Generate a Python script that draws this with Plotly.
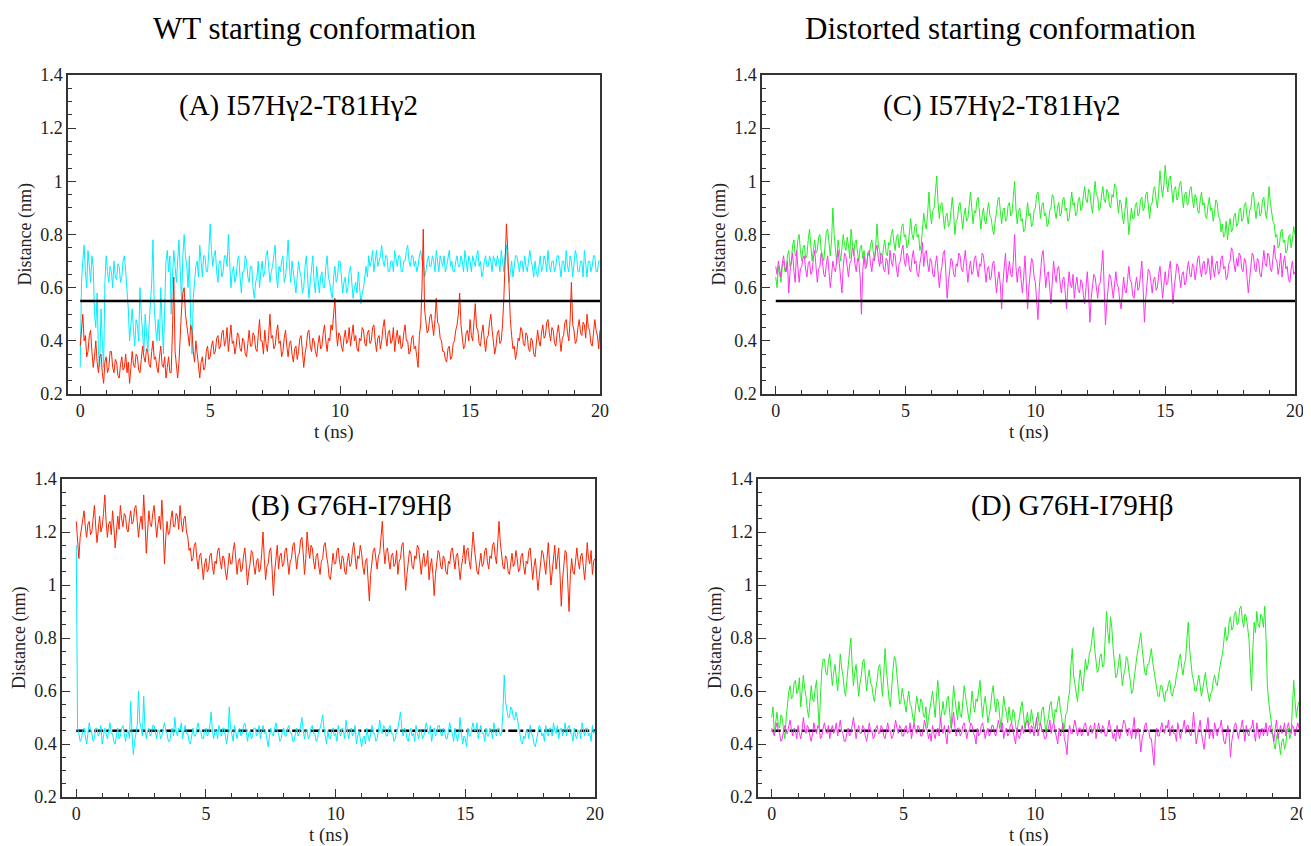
import plotly.graph_objects as go

# time axis, 0.05 ns sampling (401 frames, 0-20 ns)
t_ns = [round(i * 0.05, 2) for i in range(401)]

# (A) WT start, I57Hg2-T81Hg2 distance (nm)
a_cyan = [
    0.30, 0.62, 0.70, 0.76, 0.66, 0.60, 0.74, 0.68, 0.62, 0.72, 0.68, 0.50, 0.45, 0.58, 0.36, 0.30, 0.52, 0.40, 0.30, 0.62,
    0.72, 0.66, 0.62, 0.68, 0.66, 0.60, 0.70, 0.64, 0.63, 0.69, 0.68, 0.62, 0.64, 0.70, 0.72, 0.66, 0.60, 0.52, 0.40, 0.46,
    0.52, 0.44, 0.38, 0.48, 0.46, 0.40, 0.60, 0.50, 0.42, 0.36, 0.50, 0.44, 0.36, 0.46, 0.55, 0.62, 0.78, 0.52, 0.45, 0.40,
    0.48, 0.40, 0.60, 0.44, 0.35, 0.52, 0.70, 0.74, 0.66, 0.72, 0.50, 0.64, 0.74, 0.68, 0.62, 0.70, 0.78, 0.66, 0.55, 0.72,
    0.80, 0.72, 0.68, 0.60, 0.72, 0.48, 0.35, 0.56, 0.62, 0.68, 0.70, 0.64, 0.76, 0.70, 0.64, 0.72, 0.72, 0.66, 0.66, 0.74,
    0.84, 0.74, 0.68, 0.72, 0.74, 0.66, 0.62, 0.70, 0.70, 0.64, 0.66, 0.72, 0.72, 0.68, 0.80, 0.70, 0.60, 0.66, 0.68, 0.62,
    0.64, 0.70, 0.72, 0.64, 0.58, 0.66, 0.66, 0.72, 0.70, 0.64, 0.62, 0.68, 0.68, 0.60, 0.56, 0.62, 0.64, 0.70, 0.60, 0.66,
    0.70, 0.64, 0.66, 0.72, 0.74, 0.68, 0.62, 0.66, 0.68, 0.72, 0.76, 0.64, 0.60, 0.68, 0.66, 0.70, 0.72, 0.62, 0.64, 0.70,
    0.78, 0.68, 0.62, 0.70, 0.66, 0.62, 0.58, 0.64, 0.70, 0.66, 0.64, 0.58, 0.60, 0.68, 0.72, 0.64, 0.56, 0.62, 0.66, 0.72,
    0.62, 0.58, 0.68, 0.62, 0.58, 0.64, 0.66, 0.60, 0.60, 0.68, 0.72, 0.64, 0.62, 0.58, 0.56, 0.64, 0.68, 0.62, 0.64, 0.70,
    0.70, 0.64, 0.58, 0.62, 0.64, 0.58, 0.60, 0.66, 0.68, 0.62, 0.56, 0.60, 0.62, 0.58, 0.66, 0.60, 0.54, 0.58, 0.60, 0.64,
    0.68, 0.64, 0.72, 0.68, 0.70, 0.74, 0.66, 0.70, 0.74, 0.68, 0.70, 0.72, 0.76, 0.70, 0.68, 0.72, 0.72, 0.66, 0.66, 0.70,
    0.70, 0.66, 0.74, 0.70, 0.68, 0.72, 0.72, 0.66, 0.66, 0.70, 0.70, 0.74, 0.76, 0.70, 0.68, 0.72, 0.72, 0.68, 0.70, 0.66,
    0.68, 0.72, 0.74, 0.70, 0.70, 0.64, 0.66, 0.70, 0.72, 0.68, 0.68, 0.72, 0.70, 0.66, 0.74, 0.70, 0.66, 0.72, 0.70, 0.68,
    0.72, 0.66, 0.68, 0.72, 0.74, 0.68, 0.70, 0.66, 0.66, 0.70, 0.72, 0.68, 0.68, 0.72, 0.70, 0.66, 0.74, 0.70, 0.66, 0.72,
    0.70, 0.66, 0.72, 0.70, 0.68, 0.72, 0.74, 0.68, 0.70, 0.64, 0.66, 0.70, 0.72, 0.68, 0.68, 0.72, 0.70, 0.66, 0.72, 0.70,
    0.68, 0.72, 0.70, 0.66, 0.74, 0.70, 0.66, 0.72, 0.76, 0.68, 0.62, 0.66, 0.70, 0.64, 0.68, 0.72, 0.72, 0.68, 0.66, 0.70,
    0.70, 0.66, 0.72, 0.68, 0.66, 0.70, 0.74, 0.70, 0.68, 0.64, 0.70, 0.66, 0.64, 0.68, 0.72, 0.66, 0.68, 0.72, 0.70, 0.66,
    0.74, 0.68, 0.66, 0.70, 0.70, 0.66, 0.68, 0.72, 0.72, 0.68, 0.64, 0.70, 0.70, 0.66, 0.74, 0.68, 0.66, 0.72, 0.70, 0.64,
    0.68, 0.74, 0.72, 0.66, 0.66, 0.70, 0.70, 0.64, 0.74, 0.68, 0.64, 0.70, 0.70, 0.66, 0.68, 0.72, 0.72, 0.66, 0.66, 0.70,
    0.70,
]
a_red = [
    0.38, 0.46, 0.50, 0.40, 0.42, 0.34, 0.36, 0.42, 0.44, 0.36, 0.30, 0.34, 0.40, 0.32, 0.28, 0.34, 0.35, 0.28, 0.24, 0.32,
    0.34, 0.28, 0.30, 0.36, 0.36, 0.30, 0.28, 0.33, 0.32, 0.27, 0.26, 0.31, 0.34, 0.29, 0.30, 0.35, 0.28, 0.32, 0.24, 0.30,
    0.36, 0.31, 0.30, 0.35, 0.34, 0.29, 0.28, 0.33, 0.38, 0.34, 0.32, 0.37, 0.36, 0.31, 0.30, 0.36, 0.40, 0.33, 0.34, 0.30,
    0.28, 0.34, 0.38, 0.31, 0.30, 0.34, 0.26, 0.30, 0.34, 0.28, 0.28, 0.44, 0.64, 0.36, 0.30, 0.26, 0.32, 0.44, 0.52, 0.58,
    0.60, 0.50, 0.46, 0.40, 0.38, 0.46, 0.44, 0.36, 0.32, 0.40, 0.36, 0.30, 0.26, 0.32, 0.34, 0.29, 0.30, 0.36, 0.38, 0.33,
    0.34, 0.38, 0.40, 0.35, 0.36, 0.41, 0.42, 0.37, 0.38, 0.43, 0.44, 0.38, 0.40, 0.45, 0.36, 0.41, 0.46, 0.39, 0.40, 0.35,
    0.38, 0.43, 0.42, 0.37, 0.36, 0.41, 0.40, 0.35, 0.34, 0.39, 0.44, 0.38, 0.38, 0.43, 0.42, 0.37, 0.36, 0.42, 0.48, 0.40,
    0.40, 0.35, 0.44, 0.39, 0.36, 0.42, 0.50, 0.41, 0.42, 0.37, 0.38, 0.43, 0.46, 0.39, 0.40, 0.34, 0.36, 0.41, 0.44, 0.38,
    0.34, 0.39, 0.40, 0.35, 0.32, 0.37, 0.38, 0.33, 0.36, 0.41, 0.42, 0.36, 0.30, 0.35, 0.38, 0.43, 0.44, 0.38, 0.36, 0.41,
    0.40, 0.36, 0.34, 0.39, 0.42, 0.37, 0.38, 0.43, 0.46, 0.40, 0.36, 0.41, 0.40, 0.46, 0.44, 0.50, 0.56, 0.44, 0.38, 0.43,
    0.42, 0.38, 0.36, 0.41, 0.44, 0.39, 0.40, 0.45, 0.38, 0.42, 0.46, 0.40, 0.42, 0.37, 0.36, 0.41, 0.40, 0.45, 0.44, 0.39,
    0.38, 0.43, 0.44, 0.39, 0.40, 0.45, 0.46, 0.40, 0.36, 0.41, 0.42, 0.37, 0.40, 0.45, 0.48, 0.42, 0.38, 0.43, 0.44, 0.39,
    0.40, 0.45, 0.36, 0.41, 0.44, 0.39, 0.42, 0.37, 0.38, 0.43, 0.46, 0.40, 0.40, 0.35, 0.36, 0.41, 0.42, 0.37, 0.38, 0.34,
    0.30, 0.42, 0.46, 0.60, 0.82, 0.52, 0.48, 0.43, 0.44, 0.49, 0.50, 0.45, 0.42, 0.48, 0.56, 0.47, 0.46, 0.41, 0.40, 0.36,
    0.36, 0.33, 0.32, 0.37, 0.38, 0.33, 0.34, 0.39, 0.40, 0.44, 0.46, 0.50, 0.58, 0.46, 0.42, 0.37, 0.38, 0.43, 0.44, 0.40,
    0.48, 0.42, 0.40, 0.46, 0.54, 0.45, 0.44, 0.39, 0.38, 0.43, 0.46, 0.40, 0.36, 0.41, 0.42, 0.47, 0.50, 0.44, 0.40, 0.35,
    0.38, 0.43, 0.44, 0.39, 0.40, 0.46, 0.56, 0.70, 0.84, 0.74, 0.60, 0.48, 0.42, 0.37, 0.38, 0.33, 0.36, 0.41, 0.40, 0.45,
    0.44, 0.39, 0.38, 0.43, 0.42, 0.37, 0.36, 0.41, 0.40, 0.35, 0.34, 0.39, 0.44, 0.40, 0.38, 0.43, 0.46, 0.41, 0.42, 0.47,
    0.48, 0.43, 0.40, 0.45, 0.44, 0.39, 0.38, 0.43, 0.46, 0.41, 0.36, 0.41, 0.42, 0.47, 0.48, 0.43, 0.40, 0.48, 0.62, 0.46,
    0.44, 0.39, 0.40, 0.45, 0.48, 0.43, 0.42, 0.47, 0.46, 0.41, 0.50, 0.45, 0.44, 0.39, 0.38, 0.43, 0.48, 0.44, 0.42, 0.37,
    0.44,
]

# (B) WT start, G76H-I79Hb distance (nm)
b_red = [
    1.24, 1.16, 1.10, 1.18, 1.22, 1.26, 1.28, 1.22, 1.18, 1.23, 1.24, 1.19, 1.20, 1.25, 1.30, 1.22, 1.16, 1.21, 1.26, 1.20,
    1.22, 1.27, 1.34, 1.24, 1.18, 1.23, 1.24, 1.19, 1.28, 1.22, 1.14, 1.20, 1.26, 1.21, 1.30, 1.25, 1.22, 1.27, 1.26, 1.21,
    1.20, 1.25, 1.28, 1.23, 1.24, 1.29, 1.30, 1.24, 1.18, 1.23, 1.26, 1.21, 1.34, 1.24, 1.12, 1.20, 1.28, 1.23, 1.22, 1.27,
    1.30, 1.24, 1.18, 1.23, 1.26, 1.21, 1.32, 1.22, 1.08, 1.18, 1.24, 1.19, 1.20, 1.25, 1.28, 1.22, 1.22, 1.27, 1.26, 1.21,
    1.30, 1.24, 1.20, 1.25, 1.26, 1.20, 1.18, 1.13, 1.14, 1.09, 1.10, 1.15, 1.16, 1.10, 1.06, 1.11, 1.12, 1.07, 1.02, 1.08,
    1.10, 1.05, 1.06, 1.11, 1.12, 1.07, 1.04, 1.09, 1.08, 1.13, 1.14, 1.09, 1.06, 1.11, 1.10, 1.05, 1.02, 1.07, 1.12, 1.08,
    1.08, 1.13, 1.16, 1.10, 1.04, 1.09, 1.10, 1.05, 1.06, 1.11, 1.14, 1.08, 1.00, 1.05, 1.08, 1.13, 1.12, 1.07, 1.04, 1.09,
    1.10, 1.05, 1.06, 1.12, 1.20, 1.10, 1.02, 1.07, 1.08, 1.13, 1.14, 1.06, 0.96, 1.05, 1.10, 1.15, 1.06, 1.11, 1.12, 1.07,
    1.08, 1.13, 1.14, 1.09, 1.04, 1.09, 1.10, 1.15, 1.16, 1.11, 1.06, 1.11, 1.12, 1.17, 1.18, 1.12, 1.04, 1.10, 1.20, 1.14,
    1.10, 1.15, 1.14, 1.09, 1.06, 1.11, 1.12, 1.07, 1.04, 1.09, 1.10, 1.15, 1.16, 1.11, 1.08, 1.03, 1.02, 1.07, 1.12, 1.08,
    1.08, 1.13, 1.14, 1.09, 1.06, 1.11, 1.10, 1.05, 1.04, 1.09, 1.12, 1.07, 1.08, 1.13, 1.16, 1.11, 1.06, 1.11, 1.10, 1.15,
    1.12, 1.07, 1.04, 1.09, 1.10, 1.02, 0.94, 1.04, 1.08, 1.13, 1.14, 1.09, 1.06, 1.11, 1.12, 1.18, 1.24, 1.14, 1.08, 1.13,
    1.14, 1.09, 1.06, 1.11, 1.12, 1.07, 1.08, 1.13, 1.04, 1.09, 1.10, 1.15, 1.16, 1.07, 0.98, 1.04, 1.08, 1.13, 1.12, 1.07,
    1.06, 1.11, 1.10, 1.15, 1.14, 1.09, 1.04, 1.09, 1.12, 1.07, 1.08, 1.13, 1.02, 1.07, 1.10, 1.04, 0.96, 1.04, 1.08, 1.13,
    1.12, 1.07, 1.06, 1.11, 1.10, 1.05, 1.04, 1.09, 1.08, 1.13, 1.14, 1.09, 1.06, 1.11, 1.12, 1.07, 1.02, 1.07, 1.10, 1.15,
    1.08, 1.13, 1.14, 1.09, 1.06, 1.13, 1.20, 1.14, 1.10, 1.05, 1.04, 1.09, 1.12, 1.07, 1.08, 1.13, 1.14, 1.09, 1.06, 1.11,
    1.10, 1.15, 1.16, 1.11, 1.08, 1.16, 1.24, 1.16, 1.12, 1.07, 1.06, 1.11, 1.10, 1.05, 1.04, 1.09, 1.12, 1.07, 1.08, 1.13,
    1.10, 1.05, 1.06, 1.11, 1.12, 1.07, 1.04, 1.09, 1.08, 1.13, 1.14, 1.08, 1.02, 1.07, 1.10, 1.04, 0.98, 1.03, 1.08, 1.13,
    1.12, 1.07, 1.04, 1.10, 1.16, 1.08, 1.00, 1.05, 1.10, 1.15, 1.06, 1.11, 1.14, 1.04, 0.92, 1.02, 1.08, 1.13, 1.12, 1.00,
    0.90, 1.04, 1.10, 1.05, 1.04, 1.09, 1.14, 1.09, 1.06, 1.11, 1.12, 1.07, 1.02, 1.08, 1.16, 1.10, 1.08, 1.13, 1.04, 1.09,
    1.10,
]
b_cyan = [
    1.15, 0.46, 0.44, 0.41, 0.42, 0.45, 0.46, 0.43, 0.40, 0.44, 0.48, 0.45, 0.44, 0.41, 0.42, 0.46, 0.46, 0.43, 0.44, 0.47,
    0.40, 0.43, 0.46, 0.44, 0.42, 0.45, 0.48, 0.44, 0.44, 0.41, 0.40, 0.43, 0.46, 0.42, 0.43, 0.46, 0.47, 0.44, 0.41, 0.44,
    0.45, 0.42, 0.56, 0.44, 0.36, 0.41, 0.44, 0.47, 0.60, 0.48, 0.46, 0.43, 0.58, 0.46, 0.42, 0.45, 0.46, 0.43, 0.44, 0.47,
    0.47, 0.44, 0.42, 0.45, 0.45, 0.42, 0.43, 0.46, 0.48, 0.45, 0.44, 0.41, 0.41, 0.44, 0.46, 0.43, 0.50, 0.45, 0.43, 0.46,
    0.45, 0.48, 0.42, 0.45, 0.47, 0.44, 0.44, 0.41, 0.40, 0.43, 0.46, 0.43, 0.43, 0.46, 0.48, 0.45, 0.45, 0.42, 0.42, 0.45,
    0.46, 0.43, 0.44, 0.47, 0.52, 0.45, 0.42, 0.45, 0.45, 0.42, 0.47, 0.44, 0.43, 0.46, 0.46, 0.43, 0.40, 0.44, 0.54, 0.46,
    0.44, 0.41, 0.47, 0.44, 0.42, 0.45, 0.46, 0.43, 0.44, 0.47, 0.48, 0.45, 0.41, 0.44, 0.45, 0.42, 0.43, 0.46, 0.46, 0.43,
    0.44, 0.47, 0.42, 0.45, 0.47, 0.44, 0.45, 0.42, 0.39, 0.43, 0.46, 0.44, 0.43, 0.46, 0.48, 0.45, 0.44, 0.41, 0.42, 0.45,
    0.46, 0.43, 0.43, 0.46, 0.47, 0.44, 0.44, 0.41, 0.41, 0.44, 0.46, 0.43, 0.44, 0.47, 0.50, 0.45, 0.42, 0.45, 0.45, 0.42,
    0.43, 0.46, 0.47, 0.44, 0.44, 0.41, 0.42, 0.45, 0.46, 0.48, 0.51, 0.46, 0.43, 0.40, 0.45, 0.42, 0.42, 0.45, 0.46, 0.43,
    0.44, 0.41, 0.47, 0.44, 0.43, 0.46, 0.45, 0.42, 0.49, 0.45, 0.42, 0.45, 0.46, 0.43, 0.44, 0.47, 0.40, 0.43, 0.45, 0.42,
    0.39, 0.42, 0.43, 0.40, 0.46, 0.43, 0.41, 0.44, 0.47, 0.44, 0.44, 0.41, 0.42, 0.45, 0.49, 0.45, 0.44, 0.47, 0.46, 0.43,
    0.43, 0.46, 0.47, 0.44, 0.44, 0.41, 0.42, 0.45, 0.46, 0.49, 0.52, 0.46, 0.43, 0.46, 0.45, 0.42, 0.41, 0.44, 0.46, 0.43,
    0.44, 0.41, 0.47, 0.44, 0.42, 0.45, 0.45, 0.42, 0.43, 0.46, 0.48, 0.45, 0.44, 0.47, 0.41, 0.44, 0.46, 0.43, 0.44, 0.47,
    0.47, 0.44, 0.43, 0.46, 0.45, 0.42, 0.42, 0.45, 0.48, 0.45, 0.44, 0.41, 0.46, 0.43, 0.41, 0.44, 0.50, 0.44, 0.40, 0.43,
    0.42, 0.39, 0.46, 0.43, 0.43, 0.46, 0.48, 0.45, 0.45, 0.48, 0.42, 0.45, 0.47, 0.44, 0.44, 0.41, 0.46, 0.43, 0.43, 0.46,
    0.45, 0.42, 0.48, 0.45, 0.43, 0.46, 0.46, 0.43, 0.44, 0.52, 0.66, 0.56, 0.52, 0.50, 0.50, 0.54, 0.53, 0.50, 0.49, 0.52,
    0.50, 0.47, 0.44, 0.41, 0.40, 0.43, 0.42, 0.45, 0.45, 0.42, 0.47, 0.44, 0.43, 0.40, 0.39, 0.42, 0.44, 0.47, 0.46, 0.43,
    0.44, 0.41, 0.47, 0.44, 0.43, 0.46, 0.46, 0.43, 0.48, 0.45, 0.44, 0.47, 0.42, 0.45, 0.46, 0.43, 0.45, 0.48, 0.43, 0.46,
    0.47, 0.44, 0.44, 0.41, 0.46, 0.43, 0.42, 0.45, 0.45, 0.42, 0.48, 0.45, 0.43, 0.46, 0.46, 0.43, 0.44, 0.41, 0.47, 0.44,
    0.45,
]

# (C) distorted start, I57Hg2-T81Hg2 distance (nm)
c_green = [
    0.64, 0.60, 0.68, 0.64, 0.62, 0.68, 0.70, 0.66, 0.66, 0.72, 0.74, 0.68, 0.70, 0.76, 0.78, 0.72, 0.72, 0.78, 0.80, 0.74,
    0.70, 0.75, 0.76, 0.71, 0.72, 0.78, 0.82, 0.76, 0.70, 0.74, 0.78, 0.73, 0.74, 0.79, 0.80, 0.74, 0.72, 0.70, 0.76, 0.81,
    0.82, 0.76, 0.72, 0.78, 0.90, 0.80, 0.74, 0.69, 0.78, 0.73, 0.70, 0.75, 0.80, 0.76, 0.74, 0.79, 0.76, 0.71, 0.82, 0.77,
    0.72, 0.77, 0.78, 0.73, 0.70, 0.75, 0.76, 0.71, 0.74, 0.70, 0.68, 0.73, 0.72, 0.76, 0.78, 0.74, 0.70, 0.76, 0.84, 0.76,
    0.74, 0.69, 0.70, 0.75, 0.78, 0.73, 0.72, 0.77, 0.76, 0.80, 0.82, 0.77, 0.74, 0.79, 0.80, 0.75, 0.78, 0.83, 0.84, 0.79,
    0.80, 0.75, 0.76, 0.81, 0.86, 0.80, 0.78, 0.83, 0.84, 0.79, 0.80, 0.74, 0.76, 0.82, 0.88, 0.84, 0.82, 0.88, 0.96, 0.88,
    0.84, 0.89, 0.90, 0.96, 1.02, 0.92, 0.86, 0.91, 0.92, 0.87, 0.82, 0.87, 0.88, 0.83, 0.84, 0.89, 0.94, 0.88, 0.80, 0.85,
    0.86, 0.91, 0.92, 0.87, 0.82, 0.87, 0.90, 0.85, 0.86, 0.91, 0.96, 0.90, 0.84, 0.89, 0.88, 0.93, 0.94, 0.88, 0.82, 0.87,
    0.90, 0.85, 0.84, 0.89, 0.92, 0.87, 0.86, 0.82, 0.80, 0.85, 0.88, 0.93, 0.94, 0.89, 0.84, 0.89, 0.90, 0.85, 0.86, 0.91,
    0.92, 0.87, 0.88, 0.94, 1.00, 0.90, 0.84, 0.89, 0.90, 0.85, 0.86, 0.81, 0.82, 0.87, 0.92, 0.87, 0.88, 0.83, 0.84, 0.89,
    0.90, 0.95, 0.96, 0.91, 0.86, 0.91, 0.92, 0.87, 0.88, 0.83, 0.84, 0.89, 0.90, 0.95, 0.94, 0.89, 0.86, 0.90, 0.92, 0.87,
    0.88, 0.93, 0.94, 0.89, 0.90, 0.85, 0.86, 0.91, 0.96, 0.91, 0.92, 0.87, 0.88, 0.93, 0.94, 0.89, 0.90, 0.95, 0.98, 0.93,
    0.92, 0.97, 0.96, 0.91, 0.88, 0.94, 1.00, 0.95, 0.94, 0.89, 0.90, 0.95, 0.98, 0.93, 0.92, 0.97, 0.96, 0.91, 0.90, 0.95,
    0.94, 0.99, 0.98, 0.93, 0.88, 0.93, 0.92, 0.87, 0.84, 0.89, 0.94, 0.88, 0.80, 0.85, 0.90, 0.86, 0.86, 0.91, 0.92, 0.87,
    0.88, 0.93, 0.94, 0.89, 0.90, 0.95, 0.96, 0.91, 0.86, 0.91, 0.92, 0.97, 0.98, 0.93, 0.90, 0.96, 1.04, 0.98, 0.94, 0.99,
    1.06, 1.00, 0.96, 1.01, 1.02, 0.97, 0.92, 0.97, 0.98, 0.93, 0.94, 0.99, 1.00, 0.95, 0.90, 0.95, 0.96, 0.91, 0.92, 0.97,
    0.98, 0.93, 0.90, 0.95, 0.94, 0.89, 0.88, 0.93, 0.96, 0.91, 0.92, 0.87, 0.86, 0.91, 0.94, 0.89, 0.90, 0.85, 0.88, 0.93,
    0.92, 0.87, 0.86, 0.81, 0.84, 0.79, 0.80, 0.85, 0.78, 0.83, 0.86, 0.81, 0.82, 0.87, 0.88, 0.83, 0.84, 0.89, 0.90, 0.85,
    0.86, 0.91, 0.92, 0.87, 0.84, 0.89, 0.90, 0.95, 0.96, 0.90, 0.86, 0.91, 0.92, 0.87, 0.88, 0.93, 0.94, 0.89, 0.86, 0.91,
    0.98, 0.92, 0.88, 0.85, 0.84, 0.79, 0.80, 0.75, 0.76, 0.81, 0.82, 0.77, 0.78, 0.73, 0.74, 0.79, 0.80, 0.75, 0.78, 0.83,
    0.80,
]
c_magenta = [
    0.68, 0.65, 0.70, 0.67, 0.64, 0.69, 0.72, 0.68, 0.66, 0.70, 0.58, 0.66, 0.70, 0.73, 0.66, 0.62, 0.74, 0.69, 0.62, 0.67,
    0.68, 0.71, 0.72, 0.67, 0.64, 0.69, 0.70, 0.65, 0.66, 0.71, 0.74, 0.68, 0.62, 0.67, 0.68, 0.73, 0.70, 0.65, 0.64, 0.69,
    0.72, 0.66, 0.60, 0.65, 0.70, 0.67, 0.66, 0.71, 0.74, 0.69, 0.62, 0.58, 0.68, 0.73, 0.72, 0.67, 0.64, 0.69, 0.70, 0.75,
    0.74, 0.69, 0.66, 0.71, 0.70, 0.64, 0.50, 0.66, 0.72, 0.67, 0.68, 0.73, 0.74, 0.69, 0.66, 0.71, 0.70, 0.74, 0.76, 0.71,
    0.68, 0.73, 0.72, 0.67, 0.66, 0.71, 0.70, 0.65, 0.74, 0.70, 0.68, 0.73, 0.72, 0.67, 0.64, 0.69, 0.70, 0.74, 0.76, 0.70,
    0.68, 0.73, 0.72, 0.67, 0.66, 0.71, 0.74, 0.69, 0.70, 0.65, 0.64, 0.69, 0.72, 0.77, 0.68, 0.73, 0.74, 0.69, 0.66, 0.71,
    0.70, 0.65, 0.64, 0.69, 0.72, 0.66, 0.60, 0.65, 0.68, 0.73, 0.74, 0.66, 0.56, 0.62, 0.66, 0.71, 0.70, 0.65, 0.64, 0.69,
    0.68, 0.73, 0.72, 0.67, 0.66, 0.71, 0.74, 0.68, 0.62, 0.67, 0.70, 0.65, 0.66, 0.71, 0.72, 0.67, 0.64, 0.69, 0.68, 0.73,
    0.72, 0.67, 0.62, 0.67, 0.68, 0.63, 0.64, 0.69, 0.70, 0.64, 0.58, 0.63, 0.66, 0.61, 0.52, 0.62, 0.68, 0.73, 0.62, 0.67,
    0.70, 0.65, 0.64, 0.70, 0.80, 0.68, 0.62, 0.67, 0.68, 0.63, 0.58, 0.64, 0.72, 0.62, 0.52, 0.60, 0.66, 0.71, 0.70, 0.64,
    0.62, 0.56, 0.48, 0.60, 0.68, 0.72, 0.74, 0.66, 0.60, 0.65, 0.66, 0.60, 0.54, 0.62, 0.70, 0.65, 0.62, 0.67, 0.68, 0.62,
    0.58, 0.63, 0.64, 0.58, 0.52, 0.60, 0.66, 0.61, 0.60, 0.65, 0.56, 0.61, 0.64, 0.59, 0.58, 0.63, 0.62, 0.57, 0.54, 0.60,
    0.66, 0.58, 0.47, 0.56, 0.60, 0.65, 0.64, 0.59, 0.56, 0.61, 0.62, 0.68, 0.74, 0.60, 0.46, 0.54, 0.60, 0.65, 0.64, 0.59,
    0.56, 0.61, 0.66, 0.61, 0.60, 0.55, 0.52, 0.58, 0.64, 0.59, 0.58, 0.63, 0.68, 0.63, 0.62, 0.57, 0.56, 0.61, 0.64, 0.59,
    0.60, 0.65, 0.70, 0.60, 0.47, 0.56, 0.62, 0.67, 0.66, 0.61, 0.58, 0.63, 0.64, 0.59, 0.60, 0.65, 0.68, 0.62, 0.56, 0.61,
    0.66, 0.61, 0.62, 0.67, 0.70, 0.62, 0.54, 0.60, 0.64, 0.69, 0.68, 0.63, 0.60, 0.65, 0.66, 0.61, 0.62, 0.67, 0.70, 0.65,
    0.64, 0.69, 0.68, 0.63, 0.66, 0.71, 0.72, 0.67, 0.64, 0.69, 0.70, 0.65, 0.66, 0.71, 0.68, 0.63, 0.72, 0.67, 0.64, 0.69,
    0.70, 0.65, 0.66, 0.71, 0.72, 0.67, 0.68, 0.63, 0.64, 0.69, 0.70, 0.75, 0.74, 0.69, 0.66, 0.71, 0.68, 0.73, 0.72, 0.67,
    0.66, 0.71, 0.70, 0.64, 0.58, 0.63, 0.68, 0.73, 0.72, 0.67, 0.66, 0.71, 0.70, 0.65, 0.64, 0.69, 0.74, 0.69, 0.68, 0.73,
    0.72, 0.67, 0.66, 0.71, 0.76, 0.71, 0.70, 0.65, 0.68, 0.73, 0.64, 0.69, 0.72, 0.67, 0.68, 0.63, 0.62, 0.67, 0.70, 0.65,
    0.66,
]

# (D) distorted start, G76H-I79Hb distance (nm)
d_green = [
    0.50, 0.54, 0.44, 0.48, 0.52, 0.47, 0.46, 0.51, 0.50, 0.45, 0.42, 0.50, 0.56, 0.60, 0.62, 0.57, 0.58, 0.63, 0.64, 0.59,
    0.60, 0.65, 0.54, 0.60, 0.66, 0.61, 0.58, 0.53, 0.50, 0.56, 0.62, 0.57, 0.56, 0.61, 0.64, 0.55, 0.46, 0.58, 0.68, 0.72,
    0.72, 0.67, 0.66, 0.71, 0.74, 0.68, 0.62, 0.67, 0.70, 0.65, 0.60, 0.66, 0.74, 0.69, 0.66, 0.61, 0.58, 0.64, 0.70, 0.75,
    0.80, 0.70, 0.62, 0.67, 0.70, 0.64, 0.58, 0.63, 0.66, 0.71, 0.72, 0.66, 0.60, 0.65, 0.68, 0.63, 0.62, 0.58, 0.56, 0.61,
    0.64, 0.69, 0.70, 0.64, 0.58, 0.66, 0.76, 0.68, 0.62, 0.57, 0.54, 0.62, 0.68, 0.73, 0.72, 0.66, 0.60, 0.55, 0.56, 0.61,
    0.58, 0.54, 0.52, 0.57, 0.60, 0.55, 0.54, 0.50, 0.48, 0.53, 0.58, 0.55, 0.52, 0.57, 0.56, 0.51, 0.50, 0.54, 0.46, 0.50,
    0.54, 0.58, 0.60, 0.55, 0.50, 0.58, 0.64, 0.56, 0.48, 0.52, 0.56, 0.51, 0.52, 0.57, 0.58, 0.52, 0.46, 0.54, 0.62, 0.57,
    0.52, 0.49, 0.56, 0.51, 0.50, 0.56, 0.62, 0.58, 0.54, 0.50, 0.48, 0.54, 0.60, 0.55, 0.52, 0.57, 0.56, 0.60, 0.64, 0.56,
    0.50, 0.55, 0.58, 0.53, 0.48, 0.51, 0.54, 0.59, 0.62, 0.56, 0.52, 0.57, 0.56, 0.50, 0.46, 0.52, 0.58, 0.54, 0.52, 0.48,
    0.54, 0.50, 0.48, 0.53, 0.52, 0.47, 0.44, 0.48, 0.50, 0.54, 0.56, 0.51, 0.46, 0.49, 0.52, 0.47, 0.48, 0.53, 0.50, 0.46,
    0.46, 0.50, 0.52, 0.47, 0.48, 0.53, 0.54, 0.49, 0.44, 0.48, 0.50, 0.55, 0.56, 0.51, 0.48, 0.53, 0.52, 0.56, 0.58, 0.53,
    0.50, 0.45, 0.46, 0.51, 0.52, 0.57, 0.60, 0.70, 0.76, 0.66, 0.62, 0.58, 0.56, 0.63, 0.68, 0.64, 0.60, 0.66, 0.72, 0.68,
    0.70, 0.74, 0.76, 0.80, 0.84, 0.76, 0.72, 0.67, 0.68, 0.73, 0.74, 0.69, 0.70, 0.80, 0.90, 0.82, 0.78, 0.88, 0.84, 0.76,
    0.70, 0.65, 0.66, 0.71, 0.74, 0.68, 0.62, 0.66, 0.68, 0.73, 0.72, 0.67, 0.64, 0.59, 0.60, 0.65, 0.70, 0.73, 0.76, 0.80,
    0.82, 0.76, 0.72, 0.67, 0.66, 0.70, 0.70, 0.74, 0.76, 0.71, 0.68, 0.64, 0.62, 0.58, 0.58, 0.62, 0.62, 0.58, 0.56, 0.60,
    0.60, 0.63, 0.64, 0.59, 0.58, 0.61, 0.62, 0.66, 0.68, 0.72, 0.74, 0.69, 0.66, 0.70, 0.72, 0.80, 0.86, 0.76, 0.70, 0.66,
    0.64, 0.60, 0.60, 0.64, 0.66, 0.62, 0.58, 0.61, 0.64, 0.67, 0.62, 0.58, 0.56, 0.59, 0.60, 0.64, 0.66, 0.63, 0.62, 0.66,
    0.70, 0.72, 0.74, 0.80, 0.84, 0.79, 0.80, 0.86, 0.88, 0.83, 0.84, 0.89, 0.90, 0.85, 0.86, 0.91, 0.92, 0.87, 0.84, 0.89,
    0.88, 0.84, 0.80, 0.70, 0.60, 0.76, 0.86, 0.82, 0.90, 0.85, 0.84, 0.89, 0.88, 0.84, 0.92, 0.80, 0.62, 0.56, 0.52, 0.47,
    0.42, 0.40, 0.38, 0.43, 0.44, 0.39, 0.36, 0.41, 0.42, 0.38, 0.40, 0.45, 0.46, 0.42, 0.44, 0.54, 0.64, 0.56, 0.50, 0.54,
    0.56,
]
d_magenta = [
    0.46, 0.44, 0.43, 0.46, 0.48, 0.45, 0.44, 0.41, 0.42, 0.45, 0.47, 0.44, 0.44, 0.47, 0.49, 0.45, 0.43, 0.46, 0.45, 0.42,
    0.47, 0.44, 0.42, 0.45, 0.50, 0.46, 0.44, 0.47, 0.46, 0.43, 0.41, 0.44, 0.48, 0.45, 0.44, 0.47, 0.46, 0.42, 0.43, 0.46,
    0.48, 0.45, 0.44, 0.47, 0.42, 0.45, 0.47, 0.44, 0.45, 0.48, 0.43, 0.46, 0.49, 0.45, 0.44, 0.41, 0.41, 0.44, 0.46, 0.43,
    0.44, 0.47, 0.50, 0.46, 0.42, 0.45, 0.47, 0.44, 0.44, 0.47, 0.46, 0.43, 0.41, 0.44, 0.48, 0.45, 0.45, 0.42, 0.43, 0.46,
    0.47, 0.44, 0.44, 0.47, 0.46, 0.43, 0.42, 0.45, 0.48, 0.45, 0.45, 0.42, 0.43, 0.46, 0.49, 0.46, 0.44, 0.47, 0.46, 0.43,
    0.43, 0.46, 0.47, 0.44, 0.45, 0.48, 0.42, 0.45, 0.48, 0.45, 0.44, 0.47, 0.46, 0.43, 0.43, 0.46, 0.49, 0.46, 0.45, 0.42,
    0.44, 0.41, 0.47, 0.44, 0.42, 0.45, 0.46, 0.43, 0.50, 0.46, 0.44, 0.47, 0.43, 0.40, 0.47, 0.44, 0.45, 0.48, 0.52, 0.46,
    0.43, 0.46, 0.46, 0.43, 0.44, 0.47, 0.48, 0.45, 0.42, 0.45, 0.45, 0.48, 0.47, 0.44, 0.43, 0.40, 0.46, 0.43, 0.44, 0.47,
    0.48, 0.45, 0.42, 0.45, 0.46, 0.43, 0.44, 0.47, 0.47, 0.44, 0.43, 0.46, 0.49, 0.46, 0.45, 0.48, 0.42, 0.45, 0.46, 0.43,
    0.44, 0.47, 0.48, 0.45, 0.43, 0.40, 0.46, 0.43, 0.42, 0.45, 0.47, 0.44, 0.45, 0.48, 0.49, 0.46, 0.44, 0.47, 0.46, 0.43,
    0.47, 0.50, 0.43, 0.46, 0.48, 0.45, 0.45, 0.42, 0.42, 0.45, 0.46, 0.49, 0.44, 0.47, 0.48, 0.45, 0.43, 0.40, 0.46, 0.43,
    0.45, 0.48, 0.42, 0.40, 0.36, 0.44, 0.47, 0.44, 0.44, 0.47, 0.49, 0.46, 0.43, 0.46, 0.46, 0.43, 0.44, 0.47, 0.48, 0.45,
    0.43, 0.46, 0.47, 0.44, 0.45, 0.48, 0.42, 0.45, 0.48, 0.45, 0.44, 0.47, 0.46, 0.43, 0.43, 0.46, 0.49, 0.46, 0.45, 0.42,
    0.44, 0.41, 0.47, 0.44, 0.42, 0.45, 0.46, 0.49, 0.48, 0.45, 0.43, 0.46, 0.45, 0.42, 0.47, 0.50, 0.42, 0.45, 0.46, 0.43,
    0.37, 0.42, 0.44, 0.47, 0.48, 0.45, 0.45, 0.42, 0.42, 0.38, 0.32, 0.42, 0.46, 0.43, 0.43, 0.46, 0.48, 0.45, 0.44, 0.47,
    0.46, 0.49, 0.43, 0.46, 0.47, 0.44, 0.44, 0.41, 0.48, 0.45, 0.42, 0.45, 0.46, 0.49, 0.44, 0.47, 0.47, 0.44, 0.43, 0.46,
    0.52, 0.46, 0.40, 0.43, 0.46, 0.49, 0.44, 0.41, 0.38, 0.43, 0.47, 0.50, 0.42, 0.45, 0.45, 0.42, 0.48, 0.45, 0.43, 0.46,
    0.46, 0.49, 0.44, 0.41, 0.40, 0.44, 0.47, 0.44, 0.35, 0.41, 0.44, 0.47, 0.48, 0.45, 0.42, 0.45, 0.46, 0.49, 0.44, 0.41,
    0.47, 0.44, 0.43, 0.46, 0.46, 0.49, 0.44, 0.41, 0.48, 0.45, 0.42, 0.45, 0.46, 0.43, 0.45, 0.48, 0.43, 0.46, 0.47, 0.44,
    0.44, 0.41, 0.46, 0.49, 0.42, 0.45, 0.47, 0.44, 0.45, 0.48, 0.43, 0.46, 0.48, 0.45, 0.44, 0.47, 0.46, 0.43, 0.45, 0.48,
    0.46,
]

# reference cut-off levels (nm) drawn across the run
ref_t = [0, 20]
ref_a = [0.55, 0.55]
ref_b = [0.45, 0.45]
ref_c = [0.55, 0.55]
ref_d = [0.45, 0.45]

panel_labels = ["(A) I57Hγ2-T81Hγ2", "(B) G76H-I79Hβ", "(C) I57Hγ2-T81Hγ2", "(D) G76H-I79Hβ"]
column_titles = ["WT starting conformation", "Distorted starting conformation"]
x_ticks = [0, 5, 10, 15, 20]
y_ticks = [0.2, 0.4, 0.6, 0.8, 1.0, 1.2, 1.4]
y_ticktext = ["0.2", "0.4", "0.6", "0.8", "1", "1.2", "1.4"]

CYAN = "#00eeff"
RED = "#ff2200"
GREEN = "#22ee22"
MAGENTA = "#ff33ee"
FONT = "Liberation Serif"

# page size and the browser's default 8px body margin
W, H, OFF = 1311, 846, 8
FW, FH = W - OFF, H - OFF


def px_x(v):
    return (v - OFF) / FW


def px_y(v):
    return 1 - (v - OFF) / FH


fig = go.Figure()


def line(x, y, color, ax, width=1.0, dash=None):
    fig.add_trace(go.Scatter(x=x, y=y, mode="lines", xaxis="x" + ax, yaxis="y" + ax,
                             line=dict(color=color, width=width, dash=dash),
                             showlegend=False, hoverinfo="skip"))


# panel A
line(t_ns, a_cyan, CYAN, "")
line(t_ns, a_red, RED, "")
line(ref_t, ref_a, "black", "", 2.5)
# panel B
line(t_ns, b_red, RED, "2")
line(ref_t, ref_b, "black", "2", 2.5, "dashdot")
line(t_ns, b_cyan, CYAN, "2")
# panel C
line(t_ns, c_green, GREEN, "3")
line(t_ns, c_magenta, MAGENTA, "3")
line(ref_t, ref_c, "black", "3", 2.5)
# panel D
line(ref_t, ref_d, "black", "4", 2.5, "dashdot")
line(t_ns, d_green, GREEN, "4")
line(t_ns, d_magenta, MAGENTA, "4")

# plot boxes in page pixels: left, right, top, bottom, x-range start
boxes = {
    "": (68, 600, 75, 394, -0.47),
    "2": (62, 595, 479, 797, -0.55),
    "3": (762, 1295, 75, 394, -0.53),
    "4": (758, 1299, 479, 797, -0.52),
}

layout = dict(
    width=FW, height=FH,
    margin=dict(l=0, r=0, t=0, b=0),
    paper_bgcolor="white", plot_bgcolor="white",
    font=dict(family=FONT, color="#222"),
    showlegend=False,
)

axis_common = dict(
    showline=True, linecolor="#333", linewidth=1.5, mirror=True,
    ticks="inside", ticklen=8, tickwidth=1.2, tickcolor="#333",
    showgrid=False, zeroline=False, automargin=False,
    tickfont=dict(family=FONT, size=18, color="#222"),
)

for ax, (l, r, top, bot, x0) in boxes.items():
    layout["xaxis" + ax] = dict(
        axis_common, domain=[px_x(l), px_x(r)], anchor="y" + ax,
        range=[x0, 20], tickvals=x_ticks,
        minor=dict(dtick=1, tick0=0, ticks="inside", ticklen=4, tickcolor="#333"),
    )
    layout["yaxis" + ax] = dict(
        axis_common, domain=[px_y(bot), px_y(top)], anchor="x" + ax,
        range=[0.2, 1.4], tickvals=y_ticks, ticktext=y_ticktext,
        minor=dict(dtick=0.05, tick0=0.2, ticks="inside", ticklen=4, tickcolor="#333"),
    )

fig.update_layout(**layout)

ann = []


def note(text, x, y, size, color="black", angle=0):
    ann.append(dict(text=text, x=px_x(x), y=px_y(y), xref="paper", yref="paper",
                    xanchor="center", yanchor="middle", showarrow=False, textangle=angle,
                    font=dict(size=size, family=FONT, color=color)))


# column titles
note(column_titles[0], 315, 28, 31)
note(column_titles[1], 1000, 28, 31)

# panel labels
label_pos = [(298, 105), (352, 505), (1001, 105), (1072, 505)]
for txt, (lx, ly) in zip(panel_labels, label_pos):
    note(txt, lx, ly, 29)

# axis titles
for ax, (l, r, top, bot, x0) in boxes.items():
    note("Distance (nm)", l - 43, (top + bot) / 2, 18, "#222", -90)
    note("t (ns)", (l + r) / 2, bot + 38, 19, "#222")

fig.update_layout(annotations=ann)

fig.write_html("out.html")
